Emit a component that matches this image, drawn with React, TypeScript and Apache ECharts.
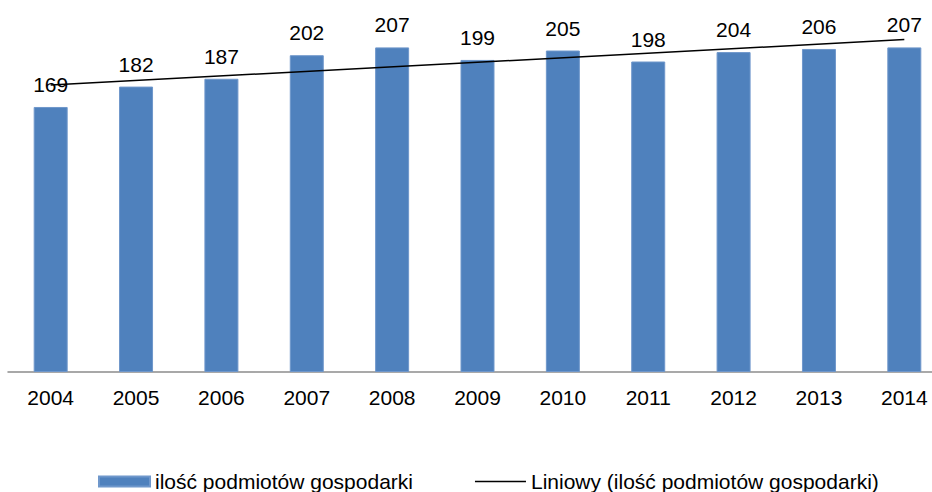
import React, { useEffect, useRef } from "react";
import * as echarts from "echarts";

const years = ["2004", "2005", "2006", "2007", "2008", "2009", "2010", "2011", "2012", "2013", "2014"];
const counts = [169, 182, 187, 202, 207, 199, 205, 198, 204, 206, 207];
// linear trend line: values read at the first and last category
const trendStart = 183;
const trendEnd = 212;
const barName = "ilość podmiotów gospodarki";
const trendName = "Liniowy (ilość podmiotów gospodarki)";

const FONT = "'Liberation Sans', Arial, sans-serif";

export default function App() {
  const ref = useRef<HTMLDivElement>(null);
  useEffect(() => {
    if (!ref.current) return;
    const chart = echarts.init(ref.current, null, { renderer: "svg" });
    const trend = years.map((_, i) => (i === 0 ? trendStart : i === years.length - 1 ? trendEnd : null));
    chart.setOption({
      animation: false,
      textStyle: { fontFamily: FONT, color: "#000" },
      grid: { left: 8, right: 13, top: 27, bottom: 120, containLabel: false },
      legend: {
        top: 466,
        left: 93,
        itemWidth: 51,
        itemHeight: 10,
        itemGap: 62,
        textStyle: { fontSize: 21, color: "#000", fontFamily: FONT },
        data: [
          { name: barName, icon: "rect" },
          { name: trendName, icon: "path://M0,0H34V1H0Z" },
        ],
      },
      xAxis: {
        type: "category",
        data: years,
        axisLine: { show: true, lineStyle: { color: "#8c8c8c", width: 1.5 } },
        axisTick: { show: false },
        axisLabel: { fontSize: 21, color: "#000", margin: 15, fontFamily: FONT },
      },
      yAxis: {
        type: "value",
        min: 0,
        max: 220,
        show: false,
        splitLine: { show: false },
      },
      series: [
        {
          name: barName,
          type: "bar",
          data: counts,
          barWidth: 34,
          itemStyle: { color: "#4f81bd", borderColor: "#6f97cb", borderWidth: 1 },
          label: { show: true, position: "top", distance: 12, fontSize: 21, color: "#000", fontFamily: FONT },
        },
        {
          name: trendName,
          type: "line",
          data: trend,
          connectNulls: true,
          symbol: "none",
          showSymbol: false,
          lineStyle: { color: "#000", width: 1.5 },
          itemStyle: { color: "#000" },
          z: 5,
        },
      ],
    });
    return () => chart.dispose();
  }, []);
  return (
    <div style={{ position: "absolute", left: 0, top: 0, width: 932, height: 492, overflow: "hidden" }}>
      <div ref={ref} style={{ position: "absolute", left: 0, top: 0, width: 960, height: 492 }} />
    </div>
  );
}
